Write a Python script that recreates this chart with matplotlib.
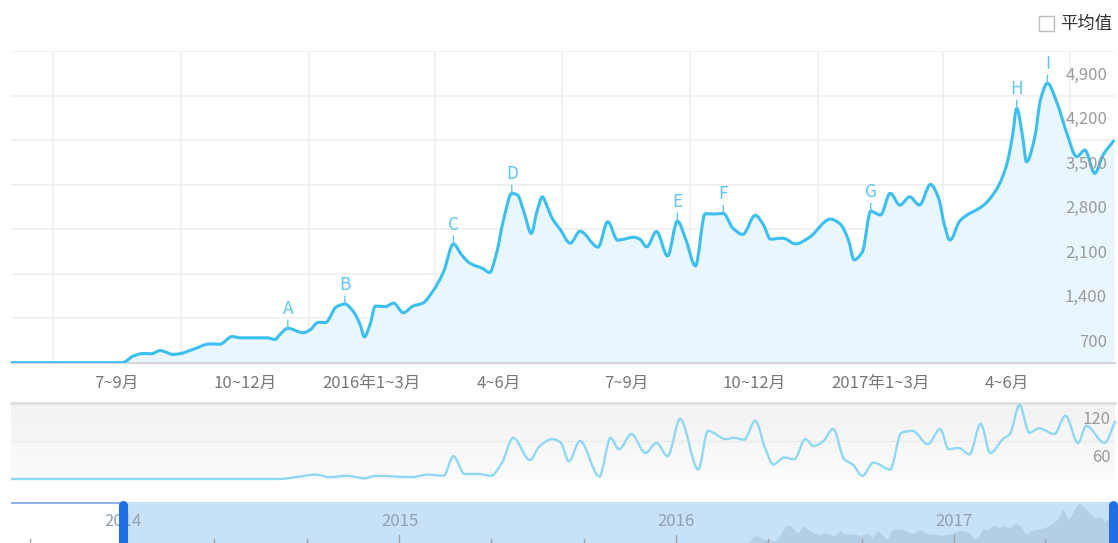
import numpy as np
import pandas as pd
import matplotlib
matplotlib.use("Agg")
import matplotlib.pyplot as plt
from matplotlib.transforms import offset_copy
from matplotlib.patches import Rectangle, PathPatch
from matplotlib.path import Path
from matplotlib.colors import LinearSegmentedColormap

plt.rcParams["font.family"] = ["Noto Sans CJK SC", "DejaVu Sans"]

# x values are days counted from 2015-06-01
START = pd.Timestamp("2015-06-01")

main_days = [0, 80, 88, 95, 101, 107, 111, 116, 121, 131,
             143, 150, 159, 165, 184, 190, 193, 199, 210, 215,
             221, 226, 234, 240, 247, 251, 254, 258, 262, 269,
             275, 282, 289, 296, 303, 311, 318, 324, 330, 339,
             344, 349, 354, 360, 364, 369, 374, 378, 382, 385,
             389, 395, 402, 409, 422, 429, 436, 448, 452, 457,
             464, 472, 479, 485, 492, 499, 506, 512, 519, 526,
             535, 541, 546, 555, 564, 574, 589, 596, 602, 606,
             612, 618, 625, 632, 639, 646, 653, 661, 667, 671,
             675, 682, 700, 709, 716, 720, 723, 727, 730, 736,
             740, 745, 752, 759, 766, 772, 779, 785, 793]
main_vals = [5, 5, 110, 150, 145, 195, 175, 135, 145, 215,
             300, 295, 415, 395, 395, 370, 440, 545, 475, 520,
             640, 635, 885, 925, 780, 600, 410, 600, 895, 885,
             940, 790, 895, 940, 1120, 1435, 1870, 1695, 1565, 1485,
             1420, 1725, 2245, 2665, 2640, 2350, 2035, 2375, 2610, 2480,
             2275, 2090, 1880, 2070, 1820, 2220, 1930, 1975, 1945, 1825,
             2065, 1680, 2230, 1945, 1525, 2345, 2340, 2350, 2115, 2020,
             2320, 2165, 1945, 1960, 1870, 1975, 2260, 2185, 1930, 1620,
             1745, 2385, 2325, 2665, 2480, 2610, 2480, 2805, 2575, 2165,
             1930, 2230, 2495, 2750, 3135, 3580, 4000, 3580, 3160, 3555,
             4130, 4395, 4080, 3605, 3240, 3345, 2980, 3265, 3500]

sub_days = [0, 193, 205, 219, 229, 242, 254, 262, 288, 300,
            311, 318, 326, 336, 345, 353, 361, 373, 380, 389,
            395, 401, 409, 423, 431, 437, 446, 456, 464, 472,
            481, 494, 501, 514, 520, 527, 535, 542, 548, 556,
            563, 571, 577, 584, 591, 599, 605, 612, 620, 632,
            640, 648, 659, 668, 674, 681, 689, 697, 704, 713,
            718, 725, 732, 739, 750, 758, 767, 773, 786, 794]
sub_vals = [0, 0, 3, 7, 3, 5, 1, 5, 3, 7,
            5, 36, 8, 8, 5, 26, 65, 30, 52, 63,
            58, 28, 60, 4, 65, 47, 71, 41, 57, 36,
            95, 15, 76, 63, 65, 62, 92, 49, 23, 34,
            31, 63, 52, 60, 79, 31, 23, 5, 26, 15,
            73, 76, 55, 79, 47, 49, 39, 87, 41, 63,
            71, 117, 73, 80, 71, 100, 57, 84, 57, 92]

event_labels = ["A", "B", "C", "D", "E", "F", "G", "H", "I"]
event_days = [199, 240, 318, 360, 479, 512, 618, 723, 745]

quarter_labels = ["7~9月", "10~12月", "2016年1~3月", "4~6月",
                  "7~9月", "10~12月", "2017年1~3月", "4~6月"]
main_yticks = [700, 1400, 2100, 2800, 3500, 4200, 4900]
sub_yticks = [60, 120]
nav_years = [2014, 2015, 2016, 2017]

LINE = "#3bbff0"
FILL = "#e9f6fd"
GRID = "#efefef"


def spline_path(xs, ys, base=None):
    # monotone cubic bezier through the points (like a "spline" series)
    x = np.asarray(xs, float)
    y = np.asarray(ys, float)
    h = np.diff(x)
    dl = np.diff(y) / h
    m = np.zeros_like(y)
    m[0], m[-1] = dl[0], dl[-1]
    for k in range(1, len(y) - 1):
        if dl[k - 1] * dl[k] > 0:
            w1, w2 = 2 * h[k] + h[k - 1], h[k] + 2 * h[k - 1]
            m[k] = (w1 + w2) / (w1 / dl[k - 1] + w2 / dl[k])
    verts = [(x[0], y[0])]
    codes = [Path.MOVETO]
    for k in range(len(x) - 1):
        verts += [(x[k] + h[k] / 3, y[k] + m[k] * h[k] / 3),
                  (x[k + 1] - h[k] / 3, y[k + 1] - m[k + 1] * h[k] / 3),
                  (x[k + 1], y[k + 1])]
        codes += [Path.CURVE4] * 3
    if base is not None:
        verts += [(x[-1], base), (x[0], base), (x[0], y[0])]
        codes += [Path.LINETO, Path.LINETO, Path.CLOSEPOLY]
    return Path(verts, codes)


fig = plt.figure(figsize=(11.18, 5.43), dpi=100)
W, H = 1118, 543


def rect(x0, y0, x1, y1):
    return [x0 / W, 1 - y1 / H, (x1 - x0) / W, (y1 - y0) / H]


x_end = 793.6

# ---- main chart
ax = fig.add_axes(rect(11, 51, 1115, 363))
ax.set_xlim(0, x_end)
ax.set_ylim(0, 4900)
for s in ["top", "right", "left"]:
    ax.spines[s].set_visible(False)
ax.spines["bottom"].set_color("#d6d6d6")
ax.spines["bottom"].set_linewidth(1.5)
ax.set_xticks([])
ax.set_yticks([])

quarters = pd.date_range("2015-07-01", "2017-07-01", freq="QS")
q_days = list((quarters - START).days)
for d in q_days:
    ax.axvline(d, color=GRID, lw=1.2, zorder=0)
for v in main_yticks:
    ax.axhline(v, color=GRID, lw=1.2, zorder=0)

ax.add_patch(PathPatch(spline_path(main_days, main_vals, base=0),
                       facecolor=FILL, edgecolor="none", zorder=1))
ax.add_patch(PathPatch(spline_path(main_days, main_vals), facecolor="none",
                       edgecolor=LINE, lw=2.2, joinstyle="round", zorder=3))

lab_tr = offset_copy(ax.get_xaxis_transform(), fig=fig, y=-20, units="dots")
for i, lab in enumerate(quarter_labels):
    mid = (q_days[i] + q_days[i + 1]) / 2
    ax.text(mid, 0, lab, transform=lab_tr, ha="center", va="center",
            fontsize=12, color="#777777")

ylab_tr = offset_copy(ax.get_yaxis_transform(), fig=fig, y=-24, units="dots")
for v in main_yticks:
    ax.text((1107 - 11) / 1104, v, f"{v:,}", transform=ylab_tr, ha="right",
            va="center", fontsize=12, color="#9a9a9a", zorder=5)

for lab, d in zip(event_labels, event_days):
    v = main_vals[main_days.index(d)]
    ax.annotate("", xy=(d, v), xytext=(0, 8), textcoords="offset pixels",
                arrowprops=dict(arrowstyle="-", color="#5cc6f4", lw=1,
                                shrinkA=0, shrinkB=0), zorder=4)
    ax.annotate(lab, xy=(d, v), xytext=(0, 10), textcoords="offset pixels",
                ha="center", va="bottom", fontsize=12.5, color="#5cc6f4", zorder=4)

# checkbox legend
fig.patches.append(Rectangle((1039 / W, 1 - 31 / H), 15 / W, 15 / H,
                             transform=fig.transFigure, fill=False,
                             edgecolor="#bdbdbd", lw=1))
fig.text(1060 / W, 1 - 24 / H, "平均值", ha="left", va="center",
         fontsize=12.5, color="#333333")

# ---- lower chart
ax2 = fig.add_axes(rect(11, 403, 1115, 479))
for s in ax2.spines.values():
    s.set_visible(False)
ax2.set_xticks([])
ax2.set_yticks([])
grad = LinearSegmentedColormap.from_list("g", ["#fbfbfb", "#f2f2f2"])
ax2.imshow(np.linspace(0, 1, 64).reshape(-1, 1), cmap=grad, aspect="auto",
           extent=[0, 1, 0, 1], transform=ax2.transAxes, zorder=0, origin="lower")
ax2.set_xlim(0, x_end)
ax2.set_ylim(0, 120)
ax2.axhline(120, color="#dedede", lw=2, zorder=1, clip_on=False)
ax2.axhline(60, color="#ebebeb", lw=1, zorder=1)
ax2.axhline(0, color="#ebebeb", lw=1, zorder=1)
ax2.add_patch(PathPatch(spline_path(sub_days, sub_vals), facecolor="none",
                        edgecolor="#8fd8f5", lw=1.7, zorder=3, clip_on=False))
sub_tr = offset_copy(ax2.get_yaxis_transform(), fig=fig, y=-16, units="dots")
for v in sub_yticks:
    ax2.text((1111 - 11) / 1104, v, str(v), transform=sub_tr, ha="right",
             va="center", fontsize=12, color="#9a9a9a", zorder=5)

# ---- navigator
ax3 = fig.add_axes(rect(11, 502, 1115, 559))
ax3.set_xlim(-663, 792)
ax3.set_ylim(0, 4495)
for s in ax3.spines.values():
    s.set_visible(False)
ax3.set_xticks([])
ax3.set_yticks([])
sel_start = (pd.Timestamp("2014-01-01") - START).days
sel_end = 789
ax3.axvspan(sel_start, sel_end, color="#c7e1f6", lw=0, zorder=1)
ax3.fill_between(main_days, main_vals, 0, color="#b4cee6", lw=0, zorder=2)
xt = ax3.get_xaxis_transform()
ax3.plot([-663, sel_start], [0.99, 0.99], transform=xt, color="#93b4ea", lw=1.5, zorder=3)

ticks = pd.date_range("2013-09-01", "2017-05-01", freq="4MS")
for t in ticks:
    d = (t - START).days
    top = 0.42 if t.month == 1 else 0.35
    ax3.plot([d, d], [0.2, top], transform=xt, color="#9aa4ad", lw=1, zorder=3)
for y in nav_years:
    d = (pd.Timestamp(f"{y}-01-01") - START).days
    ax3.text(d, 0.65, str(y), transform=xt, ha="center", va="center",
             fontsize=12, color="#93a0ad", zorder=3)

for d in [sel_start, sel_end]:
    ax3.plot([d, d], [0.05, 0.95], transform=xt, color="#1f6fe5", lw=6.5,
             solid_capstyle="round", zorder=5, clip_on=False)

fig.savefig("out.png", dpi=100)
